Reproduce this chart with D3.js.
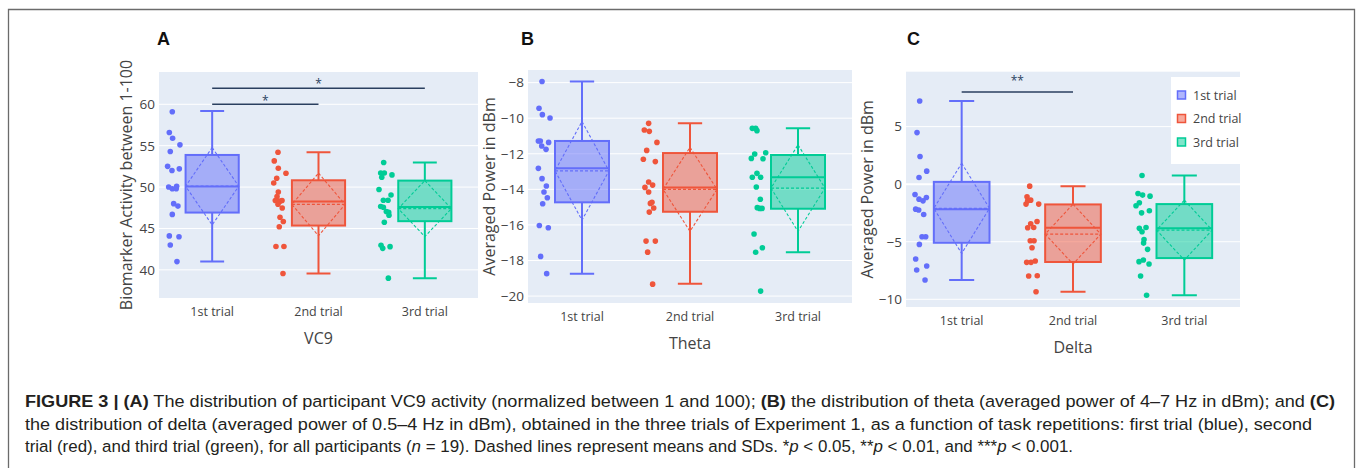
<!DOCTYPE html>
<html><head><meta charset="utf-8">
<script src="https://cdn.jsdelivr.net/npm/d3@7"></script>
<style>body{margin:0;background:#fff;} svg{display:block;}</style>
</head><body><svg id="fig" width="1358" height="468"></svg>
<script>
// ---------- DATA ----------
const trials = ["1st trial", "2nd trial", "3rd trial"];

// Panel A : VC9 (individual participant values per trial)
const vc9Values = [
  [59.1,56.6,55.9,55.1,54.3,52.5,52.0,52.2,50.0,49.8,50.1,49.8,48.0,47.7,46.7,44.1,44.0,43.0,41.0],
  [54.2,53.16,52.27,51.67,51.06,50.5,49.4,48.85,48.37,48.3,48.37,47.93,47.48,46.36,45.84,45.2,42.82,42.82,39.56],
  [52.96,51.7,51.7,51.19,51.47,49.7,49.05,48.4,48.4,47.65,47.57,47.04,46.96,46.6,45.75,42.98,42.6,42.8,39.0]
];
// horizontal jitter of each point (fraction of category band)
const vc9Jitter = [
  [-0.375,-0.403,-0.372,-0.303,-0.394,-0.419,-0.378,-0.309,-0.409,-0.375,-0.334,-0.338,-0.362,-0.322,-0.375,-0.403,-0.312,-0.394,-0.331],
  [-0.381,-0.416,-0.378,-0.306,-0.393,-0.421,-0.378,-0.390,-0.406,-0.362,-0.343,-0.381,-0.341,-0.362,-0.331,-0.369,-0.400,-0.325,-0.334],
  [-0.387,-0.415,-0.381,-0.405,-0.309,-0.431,-0.318,-0.390,-0.346,-0.415,-0.390,-0.362,-0.340,-0.337,-0.381,-0.412,-0.396,-0.327,-0.343]
];
// box stats per trial: [lower fence, q1, median, q3, upper fence, mean, sd]
const vc9Stats = [
  [41.0, 46.92, 50.06, 53.88, 59.2, 50.1, 4.67],
  [39.56, 45.35, 48.25, 50.82, 54.2, 47.9, 3.78],
  [39.0, 45.88, 47.6, 50.78, 52.96, 47.4, 3.38]
];
const vc9Ticks = [40, 45, 50, 55, 60];
const vc9Range = [36.6, 63.9];
const vc9Sig = [
  {from: 0, to: 1, y: 60.0, label: "*", labelY: 60.72},
  {from: 0, to: 2, y: 61.93, label: "*", labelY: 62.73}
];

// Panel B : Theta
const thetaValues = [
  [-7.94,-9.44,-9.8,-9.99,-11.28,-11.28,-11.36,-11.56,-11.75,-12.82,-13.4,-13.81,-14.15,-14.47,-14.81,-16.03,-16.16,-17.77,-18.74],
  [-10.29,-10.66,-10.74,-11.36,-11.81,-12.31,-12.44,-13.59,-13.76,-13.89,-14.15,-14.73,-14.79,-15.05,-15.28,-16.91,-16.91,-17.53,-19.33],
  [-10.57,-10.57,-10.7,-12.01,-12.26,-11.94,-12.28,-13.1,-13.32,-13.32,-13.87,-14.56,-15.03,-15.07,-15.07,-16.51,-17.28,-17.54,-19.72]
];
const thetaJitter = [
  [-0.370,-0.398,-0.367,-0.296,-0.404,-0.386,-0.309,-0.373,-0.333,-0.404,-0.370,-0.330,-0.352,-0.321,-0.364,-0.395,-0.312,-0.383,-0.327],
  [-0.383,-0.423,-0.377,-0.306,-0.401,-0.432,-0.321,-0.383,-0.346,-0.417,-0.383,-0.352,-0.367,-0.336,-0.377,-0.407,-0.321,-0.392,-0.346],
  [-0.423,-0.392,-0.380,-0.401,-0.432,-0.299,-0.324,-0.380,-0.423,-0.346,-0.386,-0.349,-0.377,-0.355,-0.333,-0.407,-0.330,-0.392,-0.346]
];
const thetaStats = [
  [-18.74, -14.73, -12.82, -11.28, -7.94, -12.96, 2.77],
  [-19.31, -15.26, -13.89, -11.96, -10.29, -14.0, 2.36],
  [-17.54, -15.09, -13.32, -12.07, -10.57, -13.93, 2.43]
];
const thetaTicks = [-20, -18, -16, -14, -12, -10, -8];
const thetaRange = [-20.39, -7.29];
const thetaSig = [];

// Panel C : Delta
const deltaValues = [
  [7.23,4.48,2.4,1.13,0.58,-0.9,-1.3,-1.16,-1.45,-2.17,-2.25,-2.63,-4.57,-4.57,-5.23,-6.5,-7.46,-7.11,-8.32],
  [-0.17,-1.1,-1.73,-1.45,-1.39,-1.73,-3.44,-3.24,-3.79,-3.76,-4.91,-4.91,-5.52,-6.79,-6.79,-6.68,-7.98,-7.95,-9.34],
  [0.75,-0.81,-0.95,-1.04,-1.62,-1.88,-2.49,-2.31,-3.84,-3.76,-4.13,-4.8,-5.12,-5.66,-6.73,-6.59,-6.94,-7.98,-9.65]
];
const deltaJitter = [
  [-0.377,-0.401,-0.374,-0.314,-0.383,-0.419,-0.383,-0.317,-0.347,-0.413,-0.386,-0.341,-0.323,-0.356,-0.380,-0.413,-0.404,-0.314,-0.329],
  [-0.389,-0.413,-0.422,-0.407,-0.380,-0.308,-0.380,-0.323,-0.407,-0.353,-0.384,-0.350,-0.368,-0.416,-0.377,-0.339,-0.398,-0.321,-0.332],
  [-0.380,-0.416,-0.375,-0.308,-0.404,-0.434,-0.384,-0.314,-0.404,-0.344,-0.380,-0.362,-0.366,-0.330,-0.407,-0.368,-0.317,-0.393,-0.339]
];
const deltaStats = [
  [-8.32, -5.09, -2.17, 0.2, 7.23, -2.1, 3.92],
  [-9.34, -6.76, -3.79, -1.76, -0.17, -4.34, 2.6],
  [-9.65, -6.42, -3.84, -1.73, 0.75, -3.99, 2.6]
];
const deltaTicks = [-10, -5, 0, 5];
const deltaRange = [-10.67, 9.77];
const deltaSig = [{from: 0, to: 1, y: 8.0, label: "**", labelY: 9.22}];

const captionLines = [
  [["FIGURE 3 | (A)", "b"], [" The distribution of participant VC9 activity (normalized between 1 and 100); ", ""], ["(B)", "b"], [" the distribution of theta (averaged power of 4–7 Hz in dBm); and ", ""], ["(C)", "b"]],
  [["the distribution of delta (averaged power of 0.5–4 Hz in dBm), obtained in the three trials of Experiment 1, as a function of task repetitions: first trial (blue), second", ""]],
  [["trial (red), and third trial (green), for all participants (", ""], ["n", "i"], [" = 19). Dashed lines represent means and SDs. *", ""], ["p", "i"], [" < 0.05, **", ""], ["p", "i"], [" < 0.01, and ***", ""], ["p", "i"], [" < 0.001.", ""]]
];

// ---------- STYLE / LAYOUT ----------
const trialColors = ["#636efa", "#EF553B", "#00cc96"];
const FONT = "'Open Sans', 'DejaVu Sans', sans-serif";
const TEXT = "#444";
const panels = [
  {letter: "A", lx: 157, x0: 159, x1: 478, y0: 72, y1: 298, ytOff: 27.5, title: "VC9",
   ytitle: "Biomarker Activity between 1-100", values: vc9Values, jitter: vc9Jitter, stats: vc9Stats,
   ticks: vc9Ticks, range: vc9Range, sig: vc9Sig, legend: false},
  {letter: "B", lx: 521, x0: 528, x1: 852, y0: 70, y1: 303, ytOff: 33, title: "Theta",
   ytitle: "Averaged Power in dBm", values: thetaValues, jitter: thetaJitter, stats: thetaStats,
   ticks: thetaTicks, range: thetaRange, sig: thetaSig, legend: false},
  {letter: "C", lx: 907, x0: 906, x1: 1240, y0: 71.7, y1: 307, ytOff: 33, title: "Delta",
   ytitle: "Averaged Power in dBm", values: deltaValues, jitter: deltaJitter, stats: deltaStats,
   ticks: deltaTicks, range: deltaRange, sig: deltaSig, legend: true}
];

const svg = d3.select("#fig");
svg.append("rect").attr("width", 1358).attr("height", 468).attr("fill", "#fff");
// outer frame
svg.append("path").attr("d", "M8.5,468 V9.5 H1354.5 V468")
  .attr("fill", "none").attr("stroke", "#6b6b6b").attr("stroke-width", 1.3);

function rgba(hex, a) {
  const c = d3.color(hex); c.opacity = a; return c.formatRgb();
}

panels.forEach(p => {
  const g = svg.append("g");
  const x = d3.scaleBand().domain(trials).range([p.x0, p.x1]);
  const y = d3.scaleLinear().domain(p.range).range([p.y1, p.y0]);
  const bw = x.bandwidth();

  g.append("rect").attr("x", p.x0).attr("y", p.y0).attr("width", p.x1 - p.x0).attr("height", p.y1 - p.y0)
    .attr("fill", "#E5ECF6");
  g.selectAll("line.grid").data(p.ticks).join("line").attr("class", "grid")
    .attr("x1", p.x0).attr("x2", p.x1).attr("y1", d => y(d)).attr("y2", d => y(d))
    .attr("stroke", "#fff").attr("stroke-width", d => d === 0 ? 2 : 1);

  // y axis
  const ya = g.append("g").attr("transform", `translate(${p.x0},0)`)
    .call(d3.axisLeft(y).tickValues(p.ticks).tickSize(0).tickPadding(4).tickFormat(d3.format("d")));
  ya.select(".domain").remove();
  ya.selectAll("text").attr("font-family", FONT).attr("font-size", 13.5).attr("fill", TEXT);

  // x axis
  const xa = g.append("g").attr("transform", `translate(0,${p.y1})`)
    .call(d3.axisBottom(x).tickSize(0).tickPadding(9));
  xa.select(".domain").remove();
  xa.selectAll("text").attr("font-family", FONT).attr("font-size", 12.5).attr("fill", TEXT);

  // titles
  g.append("text").attr("x", (p.x0 + p.x1) / 2).attr("y", p.y1 + 46).attr("text-anchor", "middle")
    .attr("font-family", FONT).attr("font-size", 16).attr("fill", TEXT).text(p.title);
  g.append("text").attr("transform", `translate(${p.x0 - p.ytOff},${(p.y0 + p.y1) / 2}) rotate(-90)`)
    .attr("text-anchor", "middle").attr("font-family", FONT).attr("font-size", 16).attr("fill", TEXT).text(p.ytitle);
  g.append("text").attr("x", p.lx).attr("y", 45).attr("font-family", "'Liberation Sans', Arial, sans-serif")
    .attr("font-weight", "bold").attr("font-size", 18).attr("fill", "#111").text(p.letter);

  // boxes
  trials.forEach((t, i) => {
    const [lo, q1, med, q3, hi, mean, sd] = p.stats[i];
    const col = trialColors[i];
    const cx = x(t) + bw / 2;
    const w = bw * 0.5;
    const L = cx - w / 2, R = cx + w / 2;
    const cw = w * 0.45;
    const bg = g.append("g");
    // whiskers
    bg.append("path")
      .attr("d", `M${cx},${y(q3)}V${y(hi)}M${cx - cw / 2},${y(hi)}H${cx + cw / 2}` +
                 `M${cx},${y(q1)}V${y(lo)}M${cx - cw / 2},${y(lo)}H${cx + cw / 2}`)
      .attr("fill", "none").attr("stroke", col).attr("stroke-width", 2);
    bg.append("rect").attr("x", L).attr("y", y(q3)).attr("width", w).attr("height", y(q1) - y(q3))
      .attr("fill", rgba(col, 0.5)).attr("stroke", col).attr("stroke-width", 2);
    bg.append("line").attr("x1", L).attr("x2", R).attr("y1", y(med)).attr("y2", y(med))
      .attr("stroke", col).attr("stroke-width", 2);
    // mean & SD diamond
    bg.append("line").attr("x1", L).attr("x2", R).attr("y1", y(mean)).attr("y2", y(mean))
      .attr("stroke", col).attr("stroke-width", 1.3).attr("stroke-dasharray", "3,2");
    bg.append("path")
      .attr("d", `M${cx},${y(mean + sd)}L${R},${y(mean)}L${cx},${y(mean - sd)}L${L},${y(mean)}Z`)
      .attr("fill", "none").attr("stroke", col).attr("stroke-width", 1.1).attr("stroke-dasharray", "3,2");
    // points
    bg.selectAll("circle").data(p.values[i]).join("circle")
      .attr("cx", (d, k) => cx + p.jitter[i][k] * bw)
      .attr("cy", d => y(d)).attr("r", 2.8).attr("fill", col);
  });

  // significance
  p.sig.forEach(s => {
    const xa1 = x(trials[s.from]) + bw / 2, xa2 = x(trials[s.to]) + bw / 2;
    g.append("line").attr("x1", xa1).attr("x2", xa2).attr("y1", y(s.y)).attr("y2", y(s.y))
      .attr("stroke", "#2a3f5f").attr("stroke-width", 1.5);
    g.append("text").attr("x", (xa1 + xa2) / 2).attr("y", y(s.labelY) + 0.55 * 12)
      .attr("text-anchor", "middle").attr("font-family", FONT).attr("font-size", 12)
      .attr("fill", "#2a3f5f").text(s.label);
  });

  // legend
  if (p.legend) {
    const lg = g.append("g").attr("transform", "translate(1171,77)");
    lg.append("rect").attr("width", 74).attr("height", 87).attr("fill", "#fff");
    trials.forEach((t, i) => {
      const yy = 18 + i * 23.5;
      lg.append("rect").attr("x", 6.5).attr("y", yy - 4).attr("width", 8).attr("height", 8)
        .attr("fill", rgba(trialColors[i], 0.5)).attr("stroke", trialColors[i]).attr("stroke-width", 1.5);
      lg.append("text").attr("x", 22).attr("y", yy + 4.5).attr("font-family", FONT).attr("font-size", 12.5)
        .attr("fill", TEXT).text(t);
    });
  }
});

// caption
const capLens = [1310, 1287, 1048];
const capBase = [407, 430, 452];
captionLines.forEach((line, li) => {
  const t = svg.append("text").attr("x", 25).attr("y", capBase[li])
    .attr("font-family", "'Liberation Sans', Arial, sans-serif").attr("font-size", 16.3).attr("fill", "#231f20")
    .attr("textLength", capLens[li]).attr("lengthAdjust", "spacingAndGlyphs").attr("xml:space", "preserve");
  line.forEach(([txt, st]) => {
    const ts = t.append("tspan").text(txt);
    if (st === "b") ts.attr("font-weight", "bold");
    if (st === "i") ts.attr("font-style", "italic");
  });
});
</script>
</body></html>
